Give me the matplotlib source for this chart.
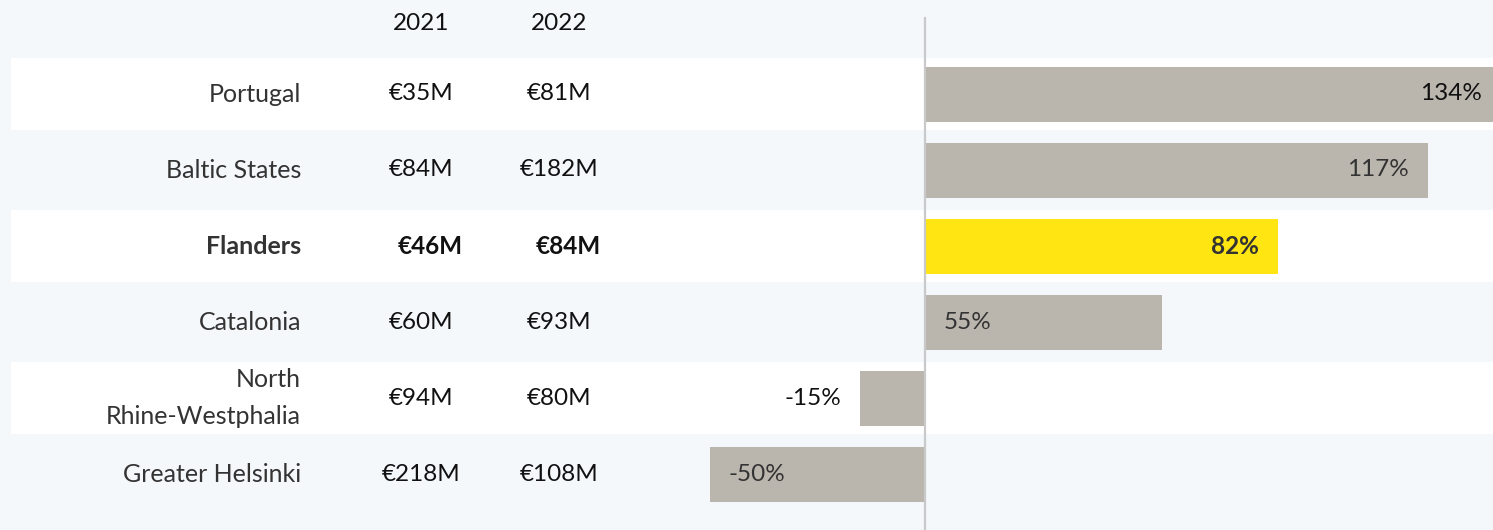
import matplotlib
matplotlib.use("Agg")
import matplotlib.pyplot as plt

# data
regions = ["Portugal", "Baltic States", "Flanders", "Catalonia",
           "North\nRhine-Westphalia", "Greater Helsinki"]
funding_2021 = ["€35M", "€84M", "€46M", "€60M", "€94M", "€218M"]
funding_2022 = ["€81M", "€182M", "€84M", "€93M", "€80M", "€108M"]
growth = [134, 117, 82, 55, -15, -50]
years = ["2021", "2022"]
highlight = "Flanders"
# where each growth label sits: at bar end inside, at bar start inside, or outside the end
label_pos = ["end_in", "end_in", "end_in", "start_in", "end_out", "end_in"]

plt.rcParams["font.family"] = ["Lato", "DejaVu Sans"]

W, H = 1493, 530
fig = plt.figure(figsize=(W / 100, H / 100), dpi=100)
bg = "#f4f8fb"
fig.patch.set_facecolor(bg)
ax = fig.add_axes([0, 0, 1, 1])
ax.set_facecolor(bg)

zero_px = 925
scale = 4.3  # px per percent point
pitch = 76
first_row = 94
ax.set_xlim(-zero_px / scale, (W - zero_px) / scale)
ax.set_ylim((H - first_row) / pitch, -first_row / pitch)
ax.axis("off")

idx = list(range(len(regions)))

# white stripes on alternate rows
for i in idx[::2]:
    ax.axhspan(i - 0.47, i + 0.47, xmin=11 / W, xmax=1, color="white", lw=0, zorder=0)

ax.axvline(0, ymin=0, ymax=1 - 18 / H, color="#c9c9c9", lw=1.6, zorder=3)

colors = ["#ffe512" if r == highlight else "#bab5ad" for r in regions]
ax.barh(idx, growth, height=55 / pitch, color=colors, zorder=2)

tx = ax.get_yaxis_transform()
fs = 18
fs_val = 17.5
col_name, col_a, col_b = 301 / W, 421 / W, 559 / W

for y, yr in zip([col_a, col_b], years):
    ax.text(y, -0.93, yr, transform=tx, ha="center", va="center", fontsize=fs_val, color="#111111")

for i, r in enumerate(regions):
    bold = r == highlight
    fw = "bold" if bold else "normal"
    shift = 9 / W if bold else 0
    ax.text(col_name, i, r, transform=tx, ha="right", va="center", fontsize=fs,
            color="#333333", fontweight=fw, linespacing=1.75)
    ax.text(col_a + shift, i, funding_2021[i], transform=tx, ha="center", va="center",
            fontsize=fs_val, color="#111111", fontweight=fw)
    ax.text(col_b + shift, i, funding_2022[i], transform=tx, ha="center", va="center",
            fontsize=fs_val, color="#111111", fontweight=fw)

    g = growth[i]
    sign = 1 if g >= 0 else -1
    pad = 19
    mode = label_pos[i]
    if mode == "end_in":
        x, off = g, -sign * pad
        ha = "right" if sign > 0 else "left"
        col = "#333333"
    elif mode == "start_in":
        x, off = 0, sign * pad
        ha = "left" if sign > 0 else "right"
        col = "#333333"
    else:
        x, off = g, sign * pad
        ha = "left" if sign > 0 else "right"
        col = "#111111"
    if i == 0:
        col = "#111111"
    ax.annotate(f"{g}%", (x, i), xytext=(off, 0), textcoords="offset pixels",
                ha=ha, va="center", fontsize=fs_val, color=col, fontweight=fw, zorder=4,
                annotation_clip=False)

fig.savefig("out.png", dpi=100, facecolor=bg)
